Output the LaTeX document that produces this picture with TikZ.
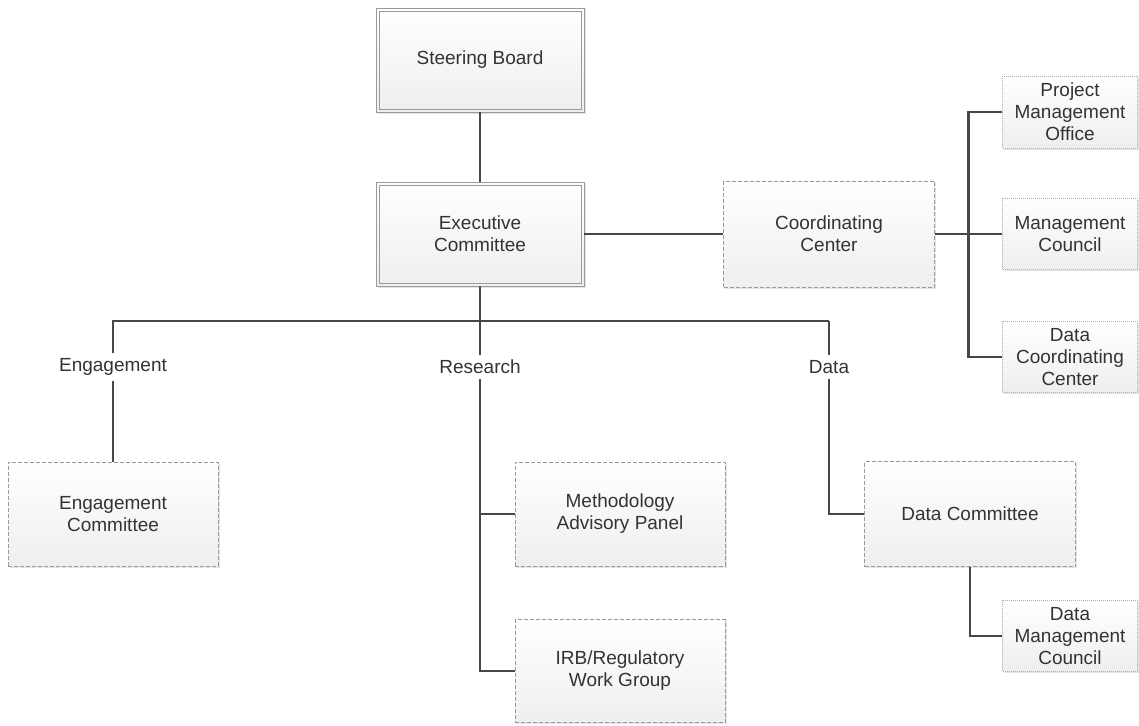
\documentclass[tikz,border=0pt]{standalone}
\usepackage{fontspec}
\setmainfont{Liberation Sans}
\usetikzlibrary{shadows}
\definecolor{txt}{HTML}{333333}
\definecolor{conn}{HTML}{474747}
\definecolor{brd}{HTML}{9A9A9A}
\begin{document}
\begin{tikzpicture}[x=1pt,y=-1pt,
  base/.style={align=center, text=txt, font=\fontsize{19}{22}\selectfont,
    top color=white, bottom color=gray!13, inner sep=0pt,
    drop shadow={shadow xshift=1.5pt, shadow yshift=-1.5pt, fill=gray!35, opacity=0.6}},
  dbl/.style={base, draw=brd, line width=0.9pt},
  inner/.style={draw=brd, line width=0.9pt},
  dsh/.style={base, draw=brd, line width=0.8pt, dash pattern=on 4pt off 2pt},
  dot/.style={base, draw=brd!80, line width=0.8pt, dash pattern=on 1pt off 1pt},
  conn/.style={draw=conn, line width=2.9pt},
  lbl/.style={fill=white, text=txt, font=\fontsize{19}{22}\selectfont, inner sep=5pt}
]
\useasboundingbox (0,0) rectangle (1139,725);
\fill[white] (0,0) rectangle (1139,725);

\coordinate (busL) at (113,321);
\coordinate (busM) at (480,321);
\coordinate (busR) at (829,321);

% nodes
\node[dbl, minimum width=208pt, minimum height=104pt] (sb) at (480,60) {Steering Board};
\node[dbl, minimum width=208pt, minimum height=104pt] (ec) at (480,234) {Executive\\Committee};
\draw[inner] ([shift={(3.5,3.5)}]sb.north west) rectangle ([shift={(-3.5,-3.5)}]sb.south east);
\draw[inner] ([shift={(3.5,3.5)}]ec.north west) rectangle ([shift={(-3.5,-3.5)}]ec.south east);
\node[dsh, minimum width=211pt, minimum height=106pt] (cc) at (829,234) {Coordinating\\Center};
\node[dot, minimum width=135pt, minimum height=72pt] (pmo) at (1070,112) {Project\\Management\\Office};
\node[dot, minimum width=135pt, minimum height=71pt] (mc) at (1070,234) {Management\\Council};
\node[dot, minimum width=135pt, minimum height=71pt] (dcc) at (1070,357) {Data\\Coordinating\\Center};
\node[dsh, minimum width=210pt, minimum height=104pt] (eng) at (113,514) {Engagement\\Committee};
\node[dsh, minimum width=210pt, minimum height=104pt] (map) at (620,514) {Methodology\\Advisory Panel};
\node[dsh, minimum width=210pt, minimum height=103pt] (irb) at (620,671) {IRB/Regulatory\\Work Group};
\node[dsh, minimum width=211pt, minimum height=105pt] (dc) at (970,514) {Data Committee};
\node[dot, minimum width=135pt, minimum height=71pt] (dmc) at (1070,636) {Data\\Management\\Council};

% connectors
\draw[conn] (sb.south) -- (ec.north);
\draw[conn] (ec.east) -- (cc.west);
\draw[conn] (cc.east) -- (mc.west);
\draw[conn] (pmo.west) -- ++(-34,0) |- (dcc.west);
\draw[conn] (ec.south) -- (busM);
\draw[conn] (eng.north) -- (busL) -- (busR);
\draw[conn] (busR) |- (dc.west);
\draw[conn] (busM) |- (irb.west);
\draw[conn] (map.west) -- (map.west -| busM);
\draw[conn] (dc.south) |- (dmc.west);

% branch labels
\node[lbl] (lEng) at (113,367) {Engagement};
\node[lbl] (lRes) at (480,367) {Research};
\node[lbl] (lDat) at (829,367) {Data};
\end{tikzpicture}
\end{document}
